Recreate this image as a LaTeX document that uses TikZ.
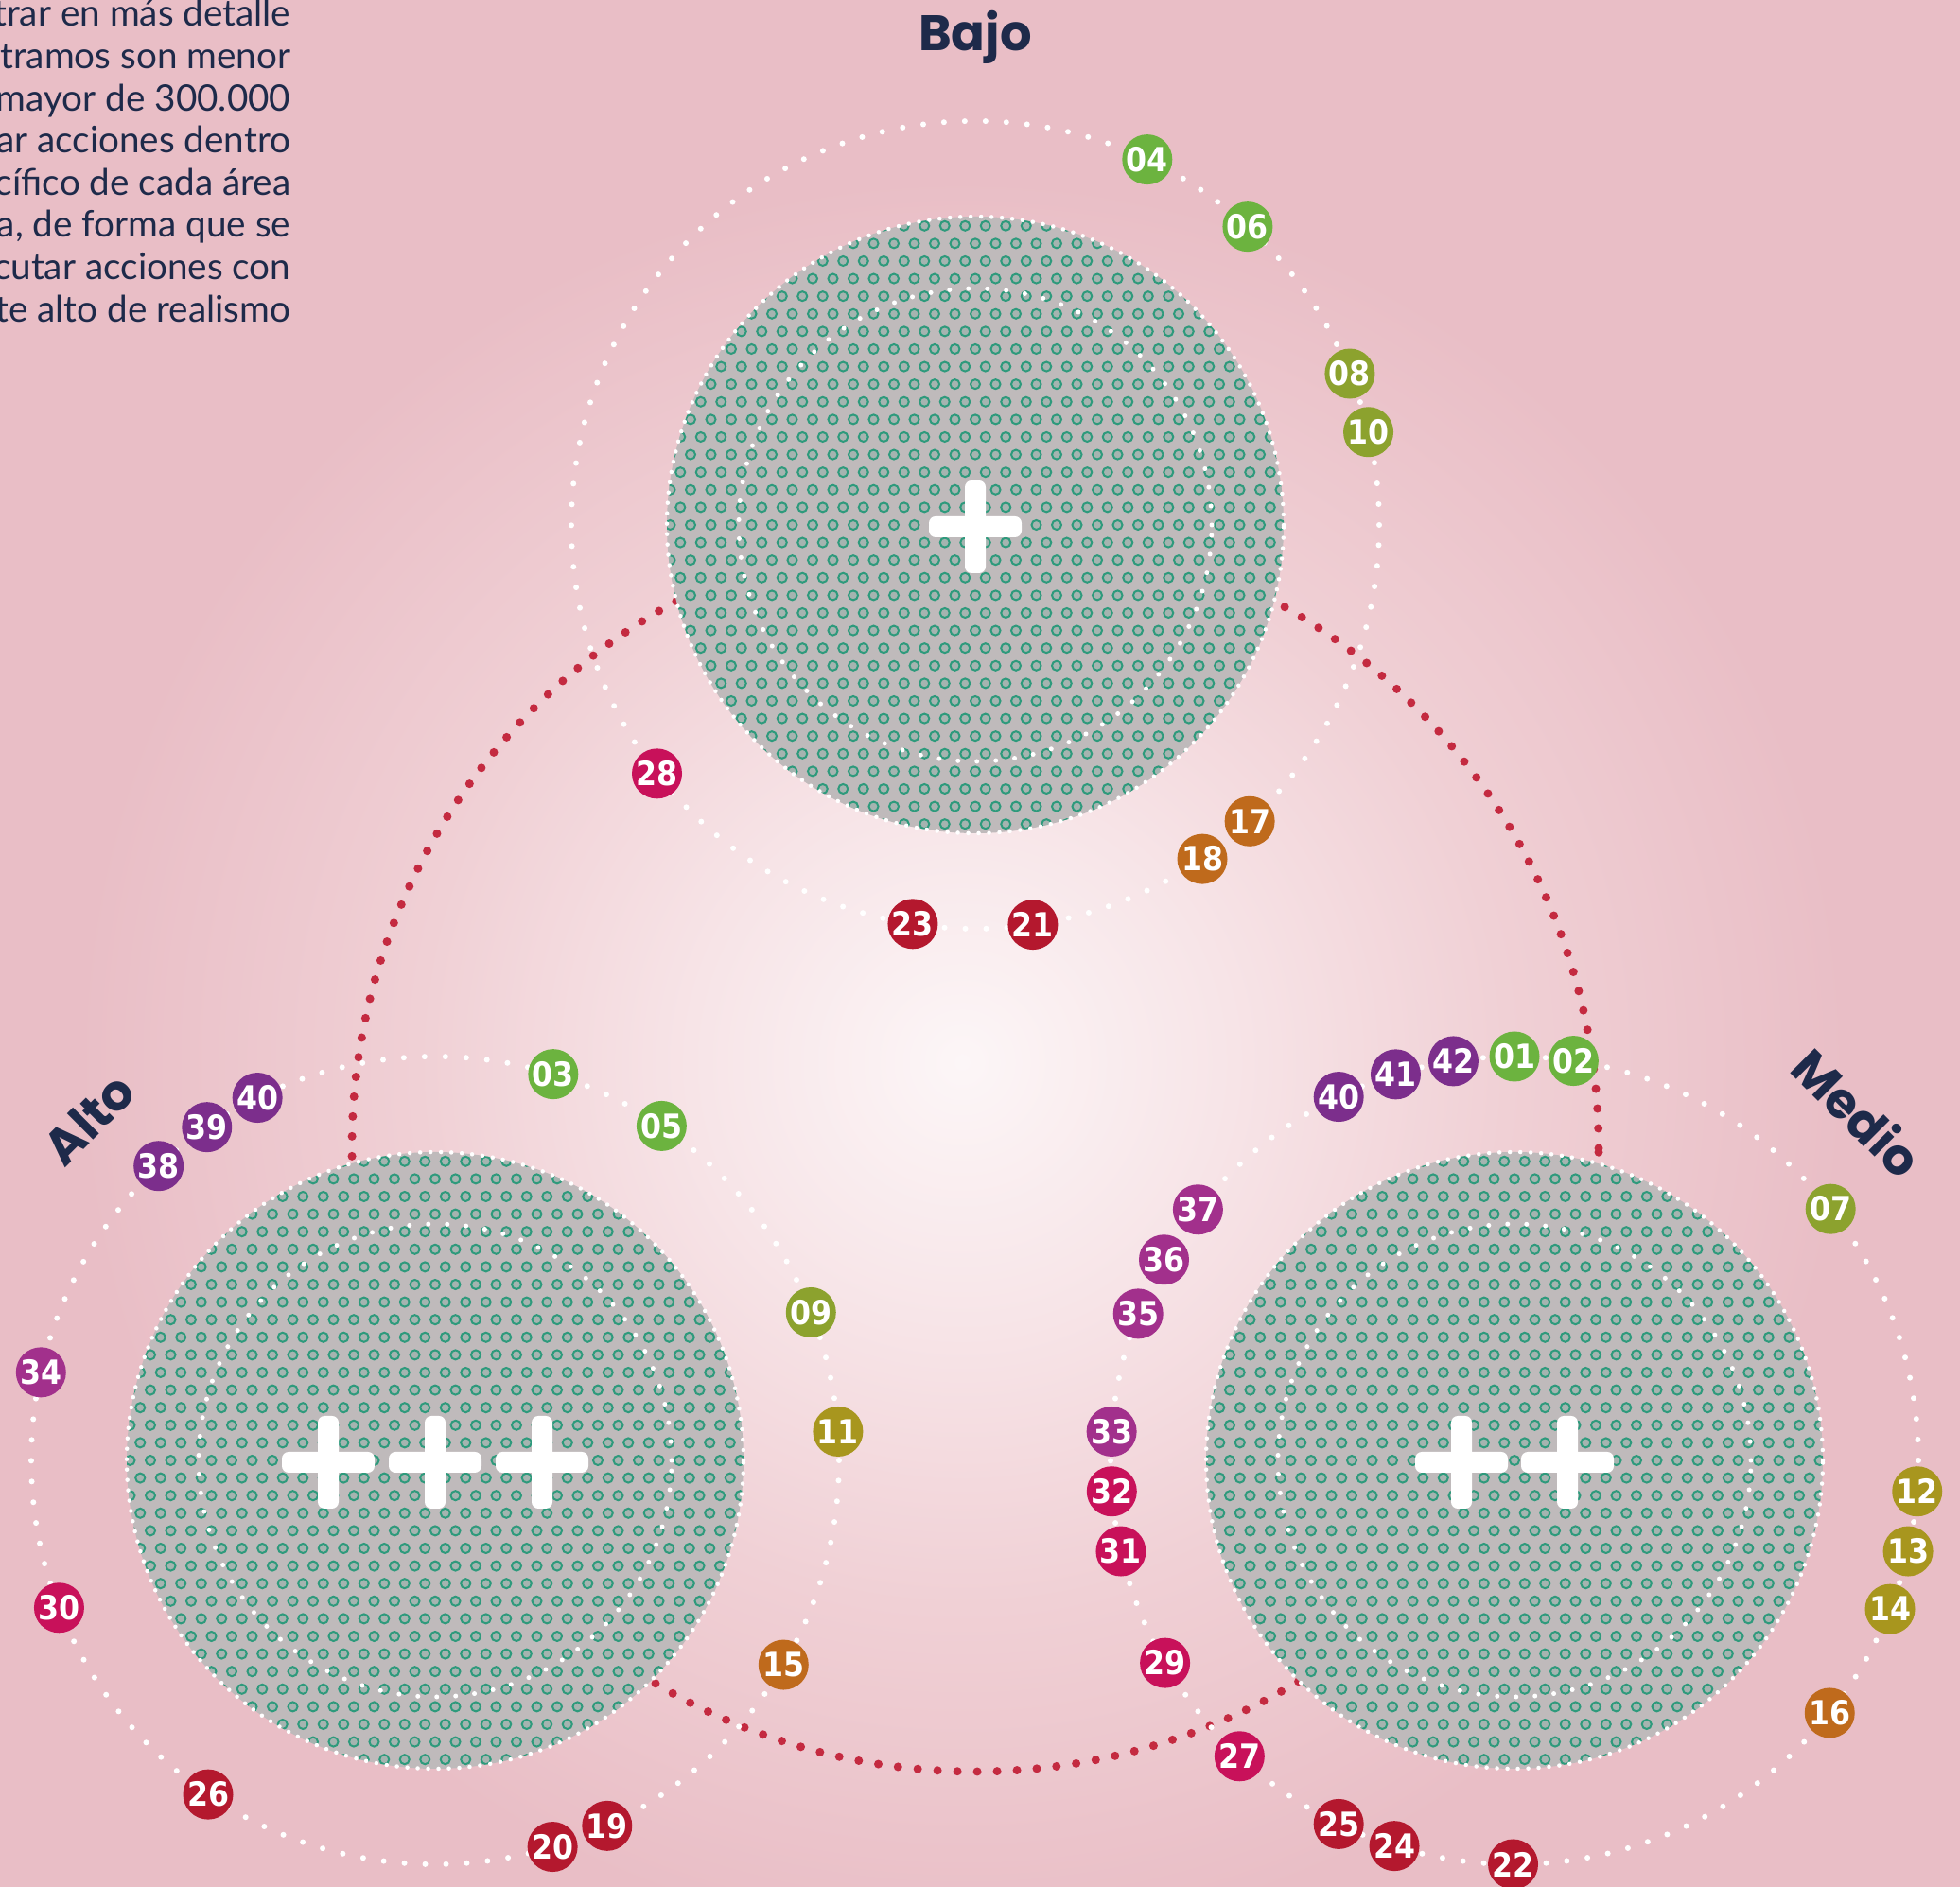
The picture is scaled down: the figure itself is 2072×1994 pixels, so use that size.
\documentclass[tikz,border=0pt]{standalone}
\usepackage{fontspec}
\newfontfamily\bodyfont{Lato}
\newfontfamily\titlefont{Poppins}
\newfontface\badgefont{DejaVu Sans Condensed Bold}
\usetikzlibrary{calc}
\definecolor{mppink}{HTML}{E9BEC6}
\definecolor{mpglowa}{HTML}{FCF6F7}
\definecolor{mpglowb}{HTML}{F7E4E7}
\definecolor{mpglowc}{HTML}{F0D0D5}
\definecolor{mpnavy}{HTML}{1E2A4A}
\definecolor{mpgrey}{HTML}{BFBABB}
\definecolor{mpteal}{HTML}{2E9A7C}
\definecolor{mpred}{HTML}{C42A40}
\definecolor{cgreen}{HTML}{6CB33F}
\definecolor{colive}{HTML}{8CA22E}
\definecolor{cmustard}{HTML}{A8961E}
\definecolor{corange}{HTML}{BF6A1C}
\definecolor{ccrimson}{HTML}{B4182E}
\definecolor{cmagenta}{HTML}{C8115A}
\definecolor{cplum}{HTML}{A2308C}
\definecolor{cpurple}{HTML}{7C2E8C}
\pgfdeclareradialshading{mpglow}{\pgfpoint{0bp}{0bp}}{color(0bp)=(mpglowa); color(2.4bp)=(mpglowb); color(4.8bp)=(mpglowc); color(7.8bp)=(mppink); color(50bp)=(mppink)}

\begin{document}
\begin{tikzpicture}[
  x=0.1mm, y=0.1mm,
  badge/.style={
    circle, inner sep=0pt, minimum size=5.3mm,
    text=white, font=\badgefont\fontsize{10}{10}\selectfont},
  region/.style={
    font=\titlefont\bfseries\fontsize{15}{15}\selectfont, text=mpnavy},
  bodytext/.style={
    anchor=base east, inner sep=0pt,
    font=\bodyfont\fontsize{11}{13}\selectfont, text=mpnavy},
  ring/.style={white, line width=0.6mm, line cap=round, dash pattern=on 0pt off 2.2mm},
  rimdots/.style={white, line width=0.45mm, line cap=round, dash pattern=on 0pt off 1.1mm},
  innerdots/.style={white, line width=0.5mm, line cap=round, dash pattern=on 0pt off 2mm},
  reddots/.style={mpred, line width=0.9mm, line cap=round, dash pattern=on 0pt off 2.1mm},
  hole/.style={draw=mpteal, line width=0.2mm, fill=mpteal!18!mpgrey},
]

  %% ---- Fondo ----
  \clip (0,0) rectangle (2072,1994);
  \fill[mppink] (0,0) rectangle (2072,1994);
  \coordinate (glow) at (1017,871);
  \shade[shading=mpglow] (glow) circle (3000);

  %% ---- Centros ----
  \coordinate (O) at (1031,780);
  \coordinate (T) at (1031,1439);
  \coordinate (L) at (460,450);
  \coordinate (R) at (1601,450);

  %% ---- Circulo rojo y anillos exteriores ----
  \draw[reddots] (O) circle (659);
  \foreach \c in {T,L,R}
    \draw[ring] (\c) circle (427);

  %% ---- Circulos grises con trama ----
  \foreach \c in {T,L,R}{
    \fill[mpgrey] (\c) circle (326);
    \begin{scope}
      \clip (\c) circle (326);
      \path[hole] \foreach \j in {-18,...,18}{
        \foreach \i in {-16,...,16}{
          ([shift={({\i*21.5+mod(abs(\j),2)*10.75},{\j*18.6})}]\c) circle (5)
        }
      };
    \end{scope}
    \draw[rimdots] (\c) circle (326);
    \draw[innerdots] (\c) circle (250);
  }

  %% ---- Signos + ----
  \foreach \px/\py in {1031/1437, 347/448, 460/448, 573/448, 1545/448, 1657/448}{
    \fill[white, rounded corners=2] (\px-49,\py-11) rectangle (\px+49,\py+11);
    \fill[white, rounded corners=2] (\px-11,\py-49) rectangle (\px+11,\py+49);
  }

  %% ---- Numeros (Bajo) ----
  \foreach \n/\a/\col in {04/64.8/cgreen, 06/47.6/cgreen, 08/22.0/colive, 10/13.3/colive,
      17/-47.2/corange, 18/-55.8/corange, 21/-81.8/ccrimson, 23/-98.9/ccrimson, 28/-142/cmagenta}
    \node[badge, fill=\col] (t\n) at ([shift={(\a:427)}]T) {\n};

  %% ---- Numeros (Alto) ----
  \foreach \n/\a/\col in {03/73/cgreen, 05/55.9/cgreen, 09/21.5/colive, 11/4.1/cmustard,
      15/-30.4/corange, 19/-64.8/ccrimson, 20/-73.1/ccrimson, 26/-124.2/ccrimson,
      30/-158.6/cmagenta, 34/167.4/cplum, 38/133.2/cpurple, 39/124.4/cpurple, 40/116.1/cpurple}
    \node[badge, fill=\col] (l\n) at ([shift={(\a:427)}]L) {\n};

  %% ---- Numeros (Medio) ----
  \foreach \n/\a/\col in {40/115.8/cpurple, 41/107.1/cpurple, 42/98.7/cpurple, 01/90/cgreen,
      02/81.6/cgreen, 07/38.5/colive, 12/-4.4/cmustard, 13/-13/cmustard, 14/-21.6/cmustard,
      16/-38.7/corange, 22/-90.2/ccrimson, 24/-107.3/ccrimson, 25/-115.8/ccrimson,
      27/-132.9/cmagenta, 29/-149.9/cmagenta, 31/-167/cmagenta, 32/184.4/cmagenta,
      33/175.9/cplum, 35/158.7/cplum, 36/150.2/cplum, 37/141.6/cplum}
    \node[badge, fill=\col] (r\n) at ([shift={(\a:427)}]R) {\n};

  %% ---- Rotulos ----
  \node[region] (bajo) at (1031,1955) {Bajo};
  \node[region, rotate=45] (alto) at (94,811) {Alto};
  \node[region, rotate=-45] (medio) at (1964,818) {Medio};

  %% ---- Texto (recortado por el borde) ----
  \foreach \txt [count=\k] in {trar en más detalle, tramos son menor, mayor de 300.000,
      ar acciones dentro, cífico de cada área, {a, de forma que se},
      cutar acciones con, te alto de realismo}
    \node[bodytext] (line\k) at (308,{1966-(\k-1)*44.6}) {\txt};

\end{tikzpicture}
\end{document}
